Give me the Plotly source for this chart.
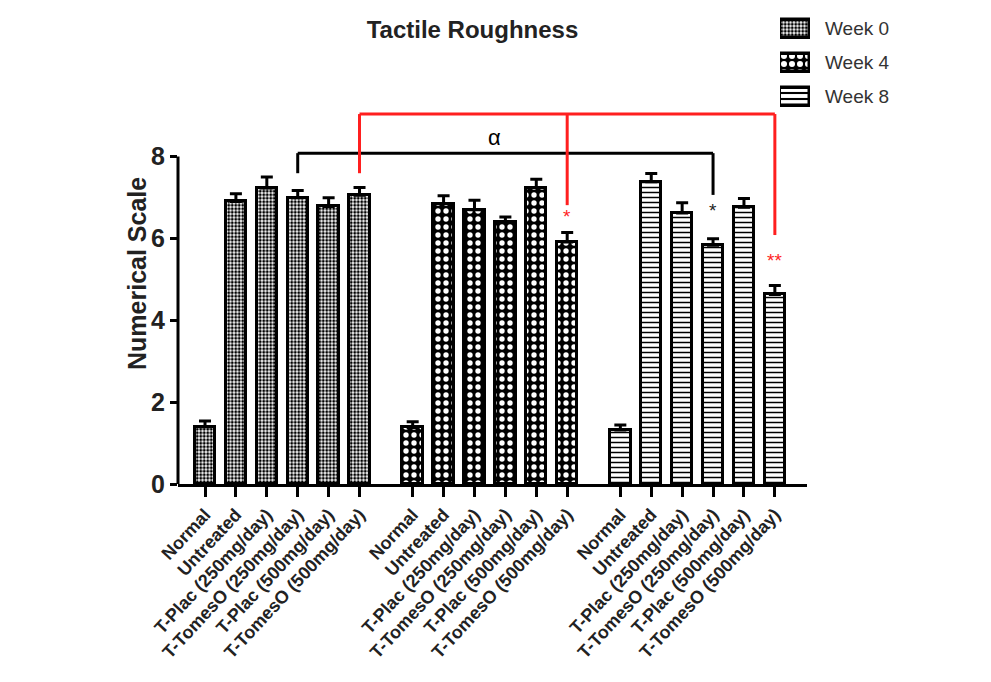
import plotly.graph_objects as go

# ---------------- data ----------------
categories = ["Normal", "Untreated", "T-Plac (250mg/day)", "T-TomesO (250mg/day)",
              "T-Plac (500mg/day)", "T-TomesO (500mg/day)"]
weeks = ["Week 0", "Week 4", "Week 8"]

week0 = [1.40, 6.90, 7.23, 6.99, 6.78, 7.05]
err0 = [0.14, 0.19, 0.27, 0.18, 0.21, 0.19]
week4 = [1.38, 6.85, 6.70, 6.39, 7.24, 5.91]
err4 = [0.14, 0.19, 0.23, 0.13, 0.20, 0.23]
week8 = [1.32, 7.38, 6.62, 5.83, 6.76, 4.63]
err8 = [0.12, 0.20, 0.25, 0.16, 0.21, 0.22]

y_ticks = [0, 2, 4, 6, 8]

values = [week0, week4, week8]
errors = [err0, err4, err8]

# significance marks: (week index, category index, text, colour, gap above error bar)
RED = "#ff1f1f"
sig_marks = [(2, 3, "*", "#222222", 0.68), (1, 5, "*", RED, 0.40), (2, 5, "**", RED, 0.62)]
# brackets: label, colour, bar level, legs [(week idx, cat idx, leg bottom)], label x shift, label y
brackets = [
    ("α", "black", 8.08, [(0, 3, 7.59), (2, 3, 7.06)], -0.34, 8.45),
    ("β", RED, 9.035, [(0, 5, 7.59), (1, 5, 6.81), (2, 5, 6.08)], 0.13, 9.69),
]

# ---------------- layout helpers ----------------
stride = 6.72
def xpos(g, i):
    return g * stride + i

patterns = [
    dict(shape=".", size=3.5, solidity=0.55, fgcolor="black", bgcolor="white", fillmode="replace"),
    dict(shape=".", size=8, solidity=0.35, fgcolor="white", bgcolor="black", fillmode="replace"),
    dict(shape="-", size=5, solidity=0.3, fgcolor="black", bgcolor="white", fillmode="replace"),
]
legend_patterns = [
    dict(shape=".", size=3.5, solidity=0.55, fgcolor="black", bgcolor="white", fillmode="replace"),
    dict(shape=".", size=8, solidity=0.45, fgcolor="white", bgcolor="black", fillmode="replace"),
    dict(shape="-", size=6, solidity=0.35, fgcolor="black", bgcolor="white", fillmode="replace"),
]

FONT = "Arial, Liberation Sans, sans-serif"
W, H = 975, 666
# plot area in figure pixels
PL, PR, PT, PB = 170, 799, 87, 476

fig = go.Figure()
for g in range(3):
    fig.add_trace(go.Bar(
        x=[xpos(g, i) for i in range(len(categories))],
        y=values[g],
        name=weeks[g],
        width=0.66,
        marker=dict(color="white", pattern=patterns[g],
                    line=dict(color="black", width=3)),
        error_y=dict(type="data", symmetric=False, array=errors[g],
                     arrayminus=[0] * len(categories),
                     color="black", thickness=3, width=6),
        showlegend=False,
        xaxis="x", yaxis="y",
    ))

# legend swatches (one per week) drawn in a small separate subplot
for g in range(3):
    fig.add_trace(go.Bar(
        y=[g], x=[1], base=[0], orientation="h", width=0.55,
        marker=dict(color="white", pattern=legend_patterns[g],
                    line=dict(color="black", width=3.5)),
        showlegend=False, hoverinfo="skip",
        xaxis="x2", yaxis="y2",
    ))

shapes = []
annotations = []
for label, col, level, legs, lx, ly in brackets:
    xs = [xpos(g, i) for g, i, _ in legs]
    shapes.append(dict(type="line", xref="x", yref="y", x0=min(xs), x1=max(xs),
                       y0=level, y1=level, line=dict(color=col, width=3)))
    for (g, i, bottom) in legs:
        shapes.append(dict(type="line", xref="x", yref="y", x0=xpos(g, i), x1=xpos(g, i),
                           y0=level, y1=bottom, line=dict(color=col, width=3)))
    centre = xs[len(xs) // 2] if len(xs) % 2 else (min(xs) + max(xs)) / 2
    annotations.append(dict(x=centre + lx, y=ly, xref="x", yref="y", text=label,
                            showarrow=False,
                            font=dict(family=FONT, size=22, color=col)))

for g, i, txt, col, gap in sig_marks:
    annotations.append(dict(x=xpos(g, i), y=values[g][i] + errors[g][i] + gap,
                            xref="x", yref="y", text=txt, showarrow=False,
                            font=dict(family=FONT, size=19, color=col)))

# legend labels
for g in range(3):
    annotations.append(dict(x=815 / W, y=g, xref="paper", yref="y2", text=weeks[g],
                            xanchor="left", yanchor="middle", showarrow=False,
                            font=dict(family=FONT, size=19, color="#333333")))

# y axis spine only from 0 to 8
shapes.append(dict(type="line", xref="x domain", yref="y", x0=0, x1=0, y0=0, y1=max(y_ticks),
                   line=dict(color="black", width=3)))

annotations.append(dict(x=129 / W, y=1 - 266 / H, xref="paper", yref="paper",
                        xanchor="center", yanchor="middle",
                        text="Numerical Scale", textangle=-90, showarrow=False,
                        font=dict(family=FONT, size=25, color="#222222", weight="bold")))

tickvals = [xpos(g, i) for g in range(3) for i in range(len(categories))]
ticktext = categories * 3

fig.update_layout(
    width=W, height=H,
    margin=dict(l=0, r=0, t=0, b=0, autoexpand=False),
    paper_bgcolor="white", plot_bgcolor="white",
    showlegend=False,
    title=dict(text="Tactile Roughness", x=464.5 / W, xref="paper", xanchor="center",
               y=1 - 22 / H, yref="container", yanchor="middle",
               font=dict(family=FONT, size=24, color="#222222", weight="bold")),
    xaxis=dict(domain=[PL / W, PR / W], range=[-0.874, 19.48], automargin=False,
               tickvals=tickvals, ticktext=ticktext, anchor="y",
               tickangle=-47, ticks="outside", ticklen=10, tickwidth=2.5, tickcolor="black",
               showline=True, linecolor="black", linewidth=3, showgrid=False, zeroline=False,
               tickfont=dict(family=FONT, size=18, color="#222222", weight="bold")),
    yaxis=dict(domain=[1 - PB / H, 1 - PT / H], range=[0, 9.5], anchor="x", automargin=False,
               tickvals=y_ticks, ticks="outside", ticklen=7, tickwidth=2.5,
               tickcolor="black", showline=False, showgrid=False, zeroline=False,
               tickfont=dict(family=FONT, size=25, color="#222222", weight="bold")),
    xaxis2=dict(domain=[772 / W, 802 / W], range=[0, 1], anchor="y2", visible=False,
                fixedrange=True, automargin=False),
    yaxis2=dict(domain=[1 - 106 / H, 1 - 4 / H], range=[2.5, -0.5], anchor="x2",
                visible=False, fixedrange=True, automargin=False),
    shapes=shapes,
    annotations=annotations,
    bargap=0,
)

fig.write_html("out.html")
